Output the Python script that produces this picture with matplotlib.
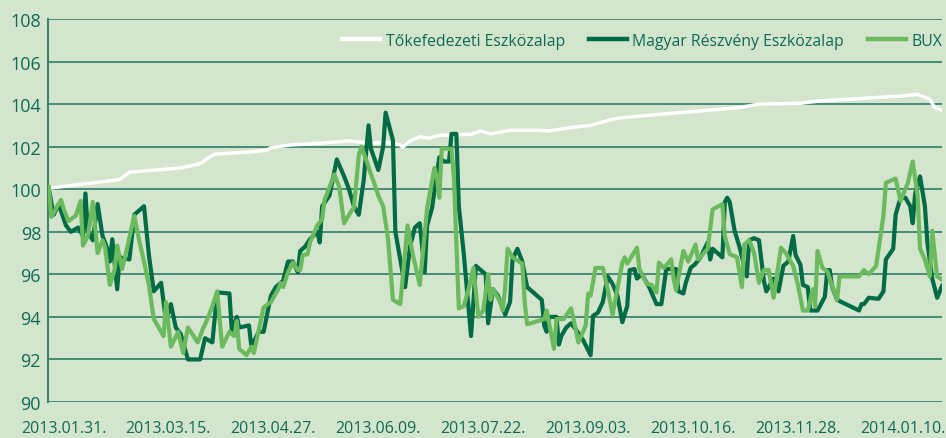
import matplotlib
matplotlib.use("Agg")
import matplotlib.pyplot as plt

# ---- data (x = calendar days since 2013.01.31.) ----
tok_days = [-6, 23, 27, 48, 56, 59, 62, 76, 83, 85, 93, 105, 117, 126, 132, 138, 139, 142, 146, 150,
            154, 167, 171, 175, 183, 195, 199, 208, 216, 224, 228, 244, 261, 277, 285, 302, 310, 326,
            343, 350, 355, 357, 360]
tok_vals = [100.05, 100.45, 100.8, 101.0, 101.2, 101.45, 101.65, 101.75, 101.83, 101.95, 102.08, 102.16,
            102.27, 102.16, 102.2, 102.08, 101.97, 102.27, 102.46, 102.4, 102.54, 102.58, 102.74, 102.6,
            102.77, 102.77, 102.74, 102.9, 103.0, 103.26, 103.35, 103.52, 103.68, 103.84, 104.0, 104.04,
            104.15, 104.26, 104.38, 104.46, 104.23, 103.84, 103.71]

mre_days = [-6, -4, -2, 1, 3, 6, 8, 9, 10, 12, 14, 16, 18, 19, 20, 22, 23, 27, 29, 33, 35, 37, 40, 42,
            44, 46, 48, 51, 56, 58, 61, 63, 68, 69, 71, 72, 76, 77, 80, 82, 85, 87, 90, 92, 94, 96, 97,
            99, 101, 104, 105, 106, 109, 112, 115, 117, 119, 121, 123, 125, 126, 129, 131, 132, 135, 136,
            138, 140, 142, 144, 146, 148, 149, 151, 154, 156, 158, 159, 161, 162, 164, 167, 169, 173, 174,
            176, 178, 181, 183, 184, 186, 188, 190, 196, 197, 198, 199, 202, 203, 204, 206, 208, 210, 213,
            216, 217, 219, 221, 223, 225, 227, 229, 231, 232, 234, 235, 237, 240, 243, 245, 247, 251, 252,
            254, 255, 257, 259, 261, 264, 265, 266, 270, 271, 272, 273, 275, 277, 280, 281, 283, 285, 287,
            288, 291, 293, 295, 297, 299, 300, 302, 303, 305, 306, 309, 312, 313, 314, 315, 317, 326, 327,
            328, 330, 334, 336, 337, 340, 341, 343, 345, 347, 348, 349, 351, 353, 354, 356, 358, 360]
mre_vals = [100.0, 98.8, 99.3, 98.3, 98.0, 98.2, 97.8, 99.8, 98.0, 97.6, 99.3, 97.8, 97.2, 96.6, 97.65,
            95.3, 96.8, 96.7, 98.8, 99.2, 96.9, 95.2, 95.6, 93.8, 94.6, 93.5, 93.2, 92.0, 92.0, 93.0, 92.8,
            95.15, 95.1, 93.3, 94.0, 93.5, 93.6, 92.6, 93.3, 93.3, 95.0, 95.4, 95.7, 96.6, 96.6, 96.1, 97.1,
            97.3, 97.65, 98.0, 97.5, 99.2, 99.7, 101.4, 100.6, 100.0, 99.2, 98.8, 100.4, 103.0, 101.9, 100.9,
            102.0, 103.6, 102.3, 98.0, 96.7, 95.4, 97.3, 98.2, 98.4, 96.1, 98.3, 99.1, 101.5, 101.3, 101.3,
            102.6, 102.6, 99.2, 97.0, 93.1, 96.4, 96.0, 93.7, 95.3, 95.0, 94.1, 94.7, 96.7, 97.2, 96.6, 95.4,
            94.8, 93.6, 93.3, 94.0, 94.0, 92.7, 93.1, 93.5, 93.7, 93.4, 92.9, 92.2, 94.05, 94.2, 94.7, 95.9,
            95.55, 95.0, 93.75, 94.5, 96.2, 96.25, 95.8, 96.0, 95.4, 94.6, 94.6, 96.25, 96.25, 95.2, 95.1,
            95.6, 96.3, 96.5, 96.8, 97.5, 96.7, 97.2, 96.8, 99.4, 99.6, 99.4, 98.05, 97.3, 95.9, 97.6, 97.7,
            97.6, 95.7, 95.2, 95.8, 95.2, 96.4, 96.6, 97.8, 96.9, 96.45, 95.5, 95.4, 94.3, 94.3, 94.95, 96.2,
            96.2, 95.4, 94.8, 94.3, 94.6, 94.6, 94.9, 94.85, 95.2, 96.7, 97.2, 98.8, 99.6, 99.6, 99.2, 98.4,
            99.8, 100.6, 99.2, 97.5, 95.8, 94.9, 95.45]

bux_days = [-6, -5, -1, 0, 2, 5, 7, 8, 10, 12, 14, 16, 17, 19, 21, 22, 24, 26, 29, 31, 33, 35, 37, 41,
            42, 44, 47, 49, 51, 55, 57, 59, 61, 63, 65, 68, 70, 71, 72, 75, 77, 78, 82, 85, 88, 89, 90, 92,
            94, 96, 97, 98, 100, 101, 104, 106, 107, 109, 111, 113, 115, 116, 118, 119, 121, 122, 124, 126,
            127, 129, 131, 133, 135, 138, 141, 143, 146, 149, 152, 153, 154, 155, 159, 160, 162, 164, 166,
            168, 170, 172, 174, 175, 176, 179, 180, 181, 182, 184, 188, 189, 190, 197, 198, 201, 202, 205,
            208, 209, 211, 214, 215, 216, 218, 221, 223, 225, 229, 230, 231, 235, 236, 239, 241, 243, 244,
            246, 249, 250, 251, 254, 256, 259, 260, 264, 266, 270, 271, 273, 276, 278, 279, 281, 283, 285,
            287, 289, 291, 294, 296, 299, 301, 303, 305, 307, 308, 309, 311, 313, 315, 317, 318, 326, 328,
            330, 333, 335, 336, 337, 341, 343, 346, 348, 350, 351, 353, 355, 356, 358, 360]
bux_vals = [100.1, 98.7, 99.5, 99.1, 98.5, 98.75, 99.45, 97.35, 97.8, 99.4, 97.0, 97.6, 97.3, 95.5, 96.25,
            97.35, 96.25, 97.2, 98.75, 97.6, 96.6, 95.5, 93.9, 93.1, 94.7, 92.6, 93.3, 92.3, 93.5, 92.8, 93.4,
            93.9, 94.5, 95.2, 92.6, 93.3, 93.1, 93.8, 92.5, 92.2, 92.6, 92.3, 94.45, 94.7, 95.3, 95.6, 95.4,
            96.1, 96.55, 96.2, 96.2, 96.9, 96.95, 97.5, 98.3, 98.6, 99.5, 100.1, 100.7, 100.1, 98.4, 98.6,
            99.0, 99.1, 101.6, 102.0, 101.4, 100.7, 100.4, 99.7, 99.2, 97.65, 94.8, 94.6, 98.3, 97.0, 95.5,
            99.1, 101.0, 100.6, 99.6, 101.9, 101.9, 100.5, 94.4, 94.5, 95.3, 96.3, 94.0, 94.3, 96.0, 94.8,
            95.3, 94.7, 94.3, 95.4, 97.2, 96.8, 96.5, 94.7, 93.65, 93.9, 94.3, 92.5, 93.9, 93.9, 94.4, 93.9,
            92.8, 93.6, 95.1, 95.0, 96.3, 96.3, 95.3, 94.1, 96.55, 96.8, 96.5, 97.25, 96.25, 95.55, 95.5,
            95.15, 96.55, 96.3, 96.7, 95.8, 95.25, 97.1, 96.6, 97.4, 96.7, 97.2, 99.05, 99.3, 97.8, 96.95,
            96.8, 95.4, 97.4, 97.6, 97.0, 95.6, 96.2, 96.2, 94.9, 97.25, 97.0, 96.4, 95.5, 94.3, 94.3, 95.3,
            94.5, 97.1, 96.3, 96.15, 95.45, 94.8, 95.9, 95.9, 96.2, 96.0, 96.4, 97.95, 98.75, 100.3, 100.5,
            99.45, 100.3, 101.3, 99.7, 97.2, 96.7, 95.9, 98.05, 95.9, 95.75]

tick_days = [0, 43, 86, 129, 172, 215, 258, 301, 344]
tick_labels = ['2013.01.31.', '2013.03.15.', '2013.04.27.', '2013.06.09.', '2013.07.22.',
               '2013.09.03.', '2013.10.16.', '2013.11.28.', '2014.01.10.']
y_ticks = [90, 92, 94, 96, 98, 100, 102, 104, 106, 108]
series_names = ['Tőkefedezeti Eszközalap', 'Magyar Részvény Eszközalap', 'BUX']

# ---- style ----
BG = '#d3e5cc'
GRID = '#3c8570'
TXT = '#0f6b53'
C_TOK = '#ffffff'
C_MRE = '#006b45'
C_BUX = '#6cba5e'

plt.rcParams['font.family'] = ['Open Sans', 'DejaVu Sans']

fig = plt.figure(figsize=(9.46, 4.39), dpi=100, facecolor=BG)
ax = fig.add_axes([48 / 946, 1 - 403 / 439, (942 - 48) / 946, (403 - 20) / 439])
ax.set_facecolor(BG)

ax.plot(tok_days, tok_vals, color=C_TOK, lw=2.5, label=series_names[0], zorder=3)
ax.plot(mre_days, mre_vals, color=C_MRE, lw=3.0, label=series_names[1], zorder=4)
ax.plot(bux_days, bux_vals, color=C_BUX, lw=3.0, label=series_names[2], zorder=5)

ax.set_xlim(-6.35, 360)
ax.set_ylim(90, 108)
ax.set_yticks(y_ticks)
ax.set_xticks(tick_days)
ax.set_xticklabels(tick_labels)

for v in y_ticks:
    ax.axhline(v, color=GRID, lw=1.3, zorder=1)

for s in ['top', 'right', 'bottom']:
    ax.spines[s].set_visible(False)
ax.spines['left'].set_color(GRID)
ax.spines['left'].set_linewidth(1.5)

ax.tick_params(axis='both', length=0)
ax.tick_params(axis='y', pad=5, labelsize=13, labelcolor=TXT)
ax.tick_params(axis='x', pad=13, labelsize=11.5, labelcolor=TXT)

leg = ax.legend(loc='center right', bbox_to_anchor=(1.0, 0.9426), ncol=3, frameon=False,
                fontsize=11.4, handlelength=2.4, handletextpad=0.35, columnspacing=1.5,
                borderaxespad=0, borderpad=0)
for t in leg.get_texts():
    t.set_color(TXT)
for h in leg.get_lines():
    h.set_linewidth(3.2)

fig.savefig('out.png', dpi=100, facecolor=BG)
